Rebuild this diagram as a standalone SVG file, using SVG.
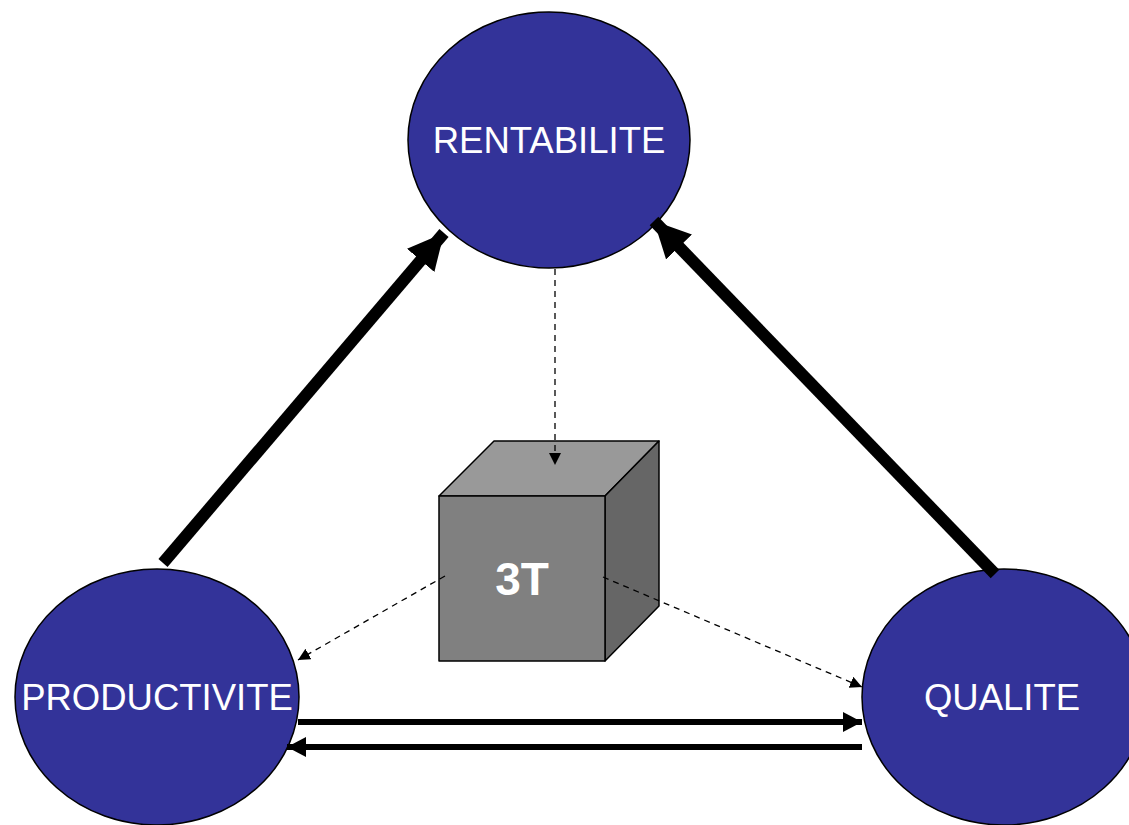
<svg xmlns="http://www.w3.org/2000/svg" width="1129" height="825" viewBox="0 0 1129 825">
  <style>
    .node { fill: #333399; stroke: #000; stroke-width: 1.5; }
    .label { font-family: "Liberation Sans", Arial, sans-serif; font-size: 36.5px; fill: #fff; text-anchor: middle; }
    .thick { stroke: #000; stroke-width: 12; fill: none; }
    .mid { stroke: #000; stroke-width: 6; fill: none; }
    .dash { stroke: #000; stroke-width: 1.3; stroke-dasharray: 6 5; fill: none; }
    .face { stroke: #000; stroke-width: 1.5; stroke-linejoin: round; }
  </style>
  <defs>
    <marker id="headBig" markerUnits="userSpaceOnUse" markerWidth="40" markerHeight="40" refX="36" refY="18" orient="auto">
      <polygon points="0,0 36,18 0,36" fill="#000"/>
    </marker>
    <marker id="headMid" markerUnits="userSpaceOnUse" markerWidth="22" markerHeight="22" refX="19" refY="10" orient="auto">
      <polygon points="0,0 19,10 0,20" fill="#000"/>
    </marker>
    <marker id="headSmall" markerUnits="userSpaceOnUse" markerWidth="14" markerHeight="14" refX="12" refY="6" orient="auto">
      <polygon points="0,0 12,6 0,12" fill="#000"/>
    </marker>
  </defs>

  <g id="rentabilite">
    <ellipse class="node" cx="549" cy="140" rx="141" ry="128"/>
    <text class="label" x="549" y="153">RENTABILITE</text>
  </g>

  <g id="productivite">
    <ellipse class="node" cx="157" cy="697" rx="142" ry="128"/>
    <text class="label" x="157" y="710">PRODUCTIVITE</text>
  </g>

  <g id="qualite">
    <ellipse class="node" cx="1004" cy="697" rx="142" ry="128"/>
    <text class="label" x="1002" y="710">QUALITE</text>
  </g>

  <g id="cube-3t">
    <polygon class="face" fill="#999999" points="439,496 494,441 659,441 605,496"/>
    <polygon class="face" fill="#666666" points="605,496 659,441 659,606 605,661"/>
    <rect class="face" fill="#808080" x="439" y="496" width="166" height="165"/>
    <text x="522" y="595" font-family="Liberation Sans, Arial, sans-serif" font-size="46" font-weight="bold" fill="#fff" text-anchor="middle">3T</text>
  </g>

  <!-- connectors drawn last so the dashed links run over the cube -->
  <g id="connectors">
    <line class="thick" x1="163" y1="563" x2="444" y2="233" marker-end="url(#headBig)"/>
    <line class="thick" x1="995" y1="574" x2="654" y2="221" marker-end="url(#headBig)"/>
    <line class="mid" x1="298" y1="722" x2="862" y2="722" marker-end="url(#headMid)"/>
    <line class="mid" x1="862" y1="747" x2="287" y2="747" marker-end="url(#headMid)"/>
    <line class="dash" x1="555" y1="269" x2="555" y2="465" marker-end="url(#headSmall)"/>
    <line class="dash" x1="445" y1="576" x2="298" y2="660" marker-end="url(#headSmall)"/>
    <line class="dash" x1="603" y1="577" x2="862" y2="687" marker-end="url(#headSmall)"/>
  </g>
</svg>
